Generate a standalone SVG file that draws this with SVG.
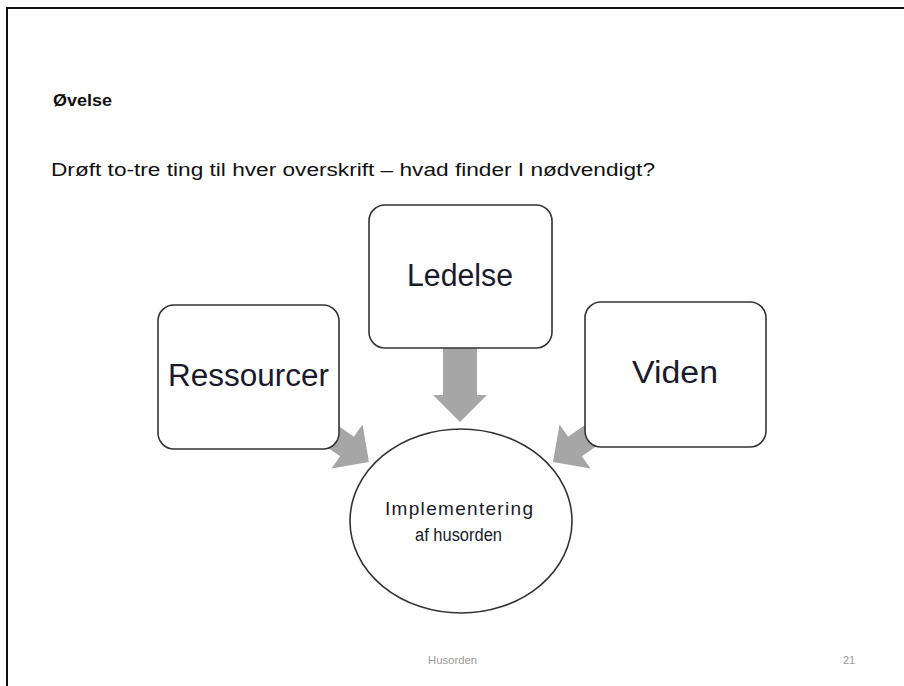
<svg xmlns="http://www.w3.org/2000/svg" width="904" height="686" viewBox="0 0 904 686">
  <style>
    .box { fill: #ffffff; stroke: #333333; stroke-width: 1.6; }
    .arrow { fill: #a6a6a6; stroke: none; }
    .big { font-family: "Liberation Sans", Arial, sans-serif; font-size: 31px; fill: #1a1a2a; text-anchor: middle; }
    .small { font-family: "Liberation Sans", Arial, sans-serif; font-size: 17px; fill: #1a1a2a; text-anchor: middle; }
    .foot { font-family: "Liberation Sans", Arial, sans-serif; font-size: 11px; fill: #9a9a9a; }
  </style>
  <rect x="0" y="0" width="904" height="686" fill="#ffffff"/>
  <!-- slide frame -->
  <path d="M7,690 L7,8 L910,8" fill="none" stroke="#111111" stroke-width="2"/>

  <text x="53" y="106" font-family="'Liberation Sans', Arial, sans-serif" font-size="16" font-weight="bold" fill="#111111" textLength="59" lengthAdjust="spacingAndGlyphs">Øvelse</text>
  <text x="51" y="176" font-family="'Liberation Sans', Arial, sans-serif" font-size="18" fill="#111111" textLength="604" lengthAdjust="spacingAndGlyphs">Drøft to-tre ting til hver overskrift – hvad finder I nødvendigt?</text>

  <g id="connectors">
    <!-- Ledelse down arrow -->
    <polygon class="arrow" points="443,340 477,340 477,395 487,395 460,422 433,395 443,395"/>
    <!-- Ressourcer arrow -->
    <polygon class="arrow" points="307.3,433.3 321.1,413.7 353.9,436.7 362.5,424.4 369,462 331.5,468.6 340.1,456.3"/>
    <!-- Viden arrow -->
    <polygon class="arrow" points="614.7,433.3 600.9,413.7 568.1,436.7 559.5,424.4 553,462 590.5,468.6 581.9,456.3"/>
  </g>

  <g id="node-ressourcer">
    <rect class="box" x="158" y="305" width="181" height="144" rx="16" ry="16"/>
    <text class="big" x="248.5" y="386" textLength="161" lengthAdjust="spacingAndGlyphs">Ressourcer</text>
  </g>
  <g id="node-ledelse">
    <rect class="box" x="369" y="205" width="183" height="143" rx="16" ry="16"/>
    <text class="big" x="460" y="286" textLength="106" lengthAdjust="spacingAndGlyphs">Ledelse</text>
  </g>
  <g id="node-viden">
    <rect class="box" x="585" y="302" width="181" height="145" rx="16" ry="16"/>
    <text class="big" x="675" y="383" textLength="86" lengthAdjust="spacingAndGlyphs">Viden</text>
  </g>
  <g id="node-implementering">
    <ellipse class="box" cx="461" cy="521" rx="111" ry="92"/>
    <text class="small" x="459" y="515" style="font-size:19px" textLength="148" lengthAdjust="spacing">Implementering</text>
    <text class="small" x="458.5" y="541" style="font-size:18px" textLength="87" lengthAdjust="spacingAndGlyphs">af husorden</text>
  </g>

  <text class="foot" x="428" y="664" textLength="49" lengthAdjust="spacingAndGlyphs">Husorden</text>
  <text class="foot" x="843" y="664">21</text>
</svg>
